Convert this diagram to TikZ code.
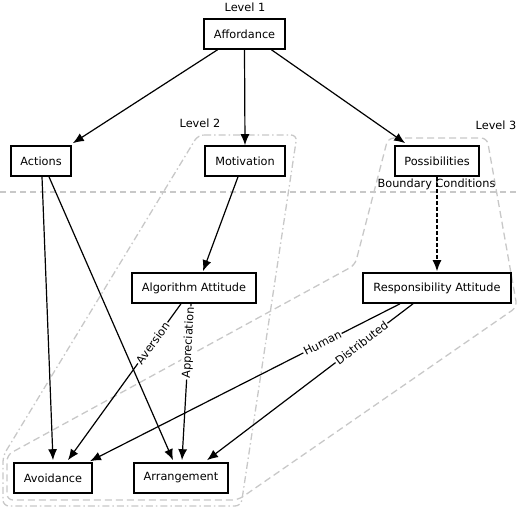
\documentclass[tikz,border=0pt]{standalone}
\usepackage{fontspec}
\setmainfont{DejaVu Sans}
\usetikzlibrary{arrows.meta}
\definecolor{rgrey}{RGB}{200,200,200}
\begin{document}
\begin{tikzpicture}[x=1pt,y=-1pt,
  every node/.style={font=\fontsize{11.3}{13}\selectfont},
  box/.style={draw, fill=white, line width=1.6pt, minimum height=30pt, inner xsep=4pt, inner ysep=0pt},
  edge/.style={draw, line width=1.2pt, -{Latex[length=11pt,width=9pt]}},
  lab/.style={sloped, fill=white, inner sep=1pt, pos=0.25},
  regline/.style={draw=rgrey, line width=1.3pt, rounded corners=6pt},
  plain/.style={inner sep=1pt}]
\useasboundingbox (0,0) rectangle (520,508);

% regions
\draw[regline, dash pattern=on 7pt off 3pt on 1.5pt off 3pt]
  (198,135) -- (297,135) -- (241,506) -- (3,506) -- (3,456) -- cycle;
\draw[regline, dash pattern=on 7pt off 4pt]
  (388,138) -- (487,138) -- (517,307) -- (238,500) -- (7,500) -- (7,455) -- (355,265) -- cycle;
\draw[draw=rgrey, line width=1.2pt, dash pattern=on 6pt off 4pt] (0,192) -- (520,192);

% labels
\node[plain] (l1) at (245,7) {Level 1};
\node[plain] (l2) at (200,123) {Level 2};
\node[plain] (l3) at (496,125) {Level 3};

% nodes
\node[box, minimum width=81pt] (aff) at (244.5,34) {Affordance};
\node[box, minimum width=60pt] (act) at (41,161) {Actions};
\node[box, minimum width=80pt] (mot) at (245,161) {Motivation};
\node[box, minimum width=84pt] (poss) at (437,161) {Possibilities};
\node[plain] (bc) at (436.5,184) {Boundary Conditions};
\node[box, minimum width=124pt] (alg) at (194,288) {Algorithm Attitude};
\node[box, minimum width=148pt] (resp) at (437,288) {Responsibility Attitude};
\node[box, minimum width=78pt] (avo) at (53,478) {Avoidance};
\node[box, minimum width=94pt] (arr) at (181,478) {Arrangement};

% edges
\draw[edge] ([xshift=-27pt]aff.south) -- ([xshift=1pt,yshift=2pt]act.north east);
\draw[edge] (aff.south) -- (mot.north);
\draw[edge] ([xshift=27pt]aff.south) -- ([xshift=11pt,yshift=2pt]poss.north west);
\draw[edge] ([xshift=1pt]act.south) -- ([yshift=2pt]avo.north);
\draw[edge] ([xshift=8pt]act.south) -- ([xshift=-8pt,yshift=2pt]arr.north);
\draw[edge] ([xshift=-7pt]mot.south) -- ([xshift=9pt,yshift=1pt]alg.north);
\draw[edge] ([xshift=-13pt]alg.south) -- node[lab]{Aversion} ([xshift=15pt,yshift=2pt]avo.north);
\draw[edge] ([xshift=-3pt]alg.south) -- node[lab]{Appreciation} ([xshift=1pt,yshift=2pt]arr.north);
\draw[edge, dash pattern=on 4pt off 2pt] (poss.south) -- ([yshift=1pt]resp.north);
\draw[edge] ([xshift=-37pt]resp.south) -- node[lab]{Human} ([xshift=37pt,yshift=1pt]avo.north);
\draw[edge] ([xshift=-24pt]resp.south) -- node[lab]{Distributed} ([xshift=26pt,yshift=2pt]arr.north);
\end{tikzpicture}
\end{document}
